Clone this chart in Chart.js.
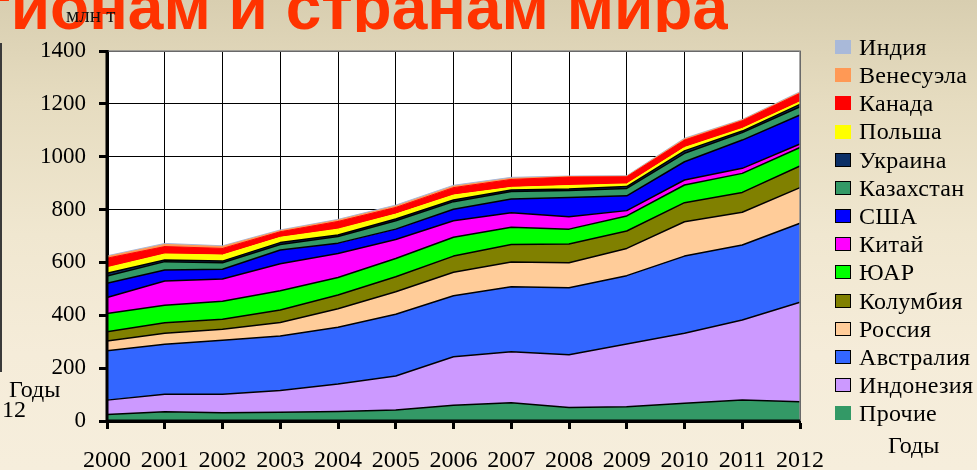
<!DOCTYPE html>
<html>
<head>
<meta charset="utf-8">
<script src="https://cdn.jsdelivr.net/npm/chart.js@4/dist/chart.umd.min.js"></script>
<style>
  html, body { margin: 0; padding: 0; }
  body {
    width: 977px; height: 470px; overflow: hidden; position: relative;
    background: linear-gradient(180deg, #d8ceb0 0%, #e6dcc0 22%, #f0e7d0 50%, #f5ecd9 75%, #f6eedc 100%);
    font-family: 'Liberation Serif', 'Times New Roman', serif;
  }
  #title { position: absolute; left: 0; top: 0; width: 728px; height: 32px; overflow: hidden; z-index: 2; }
  #title span {
    position: absolute; right: 0; top: -25px; white-space: nowrap;
    font: bold 64px 'Liberation Sans', Arial, sans-serif; line-height: 64px; color: #ff3300;
  }
  #unit { position: absolute; left: 66px; top: 5px; font-size: 21px; line-height: 21px; color: #111; z-index: 3; }
  #chartWrap { position: absolute; left: 0; top: 0; width: 977px; height: 470px; z-index: 1; }
  #legend { position: absolute; left: 835px; top: 32.9px; z-index: 3; }
  .li { height: 28.2px; display: flex; align-items: center; font-size: 24px; line-height: 28.2px; color: #000; white-space: nowrap; letter-spacing: 0.3px; }
  .lb { width: 16px; height: 14px; box-sizing: border-box; margin-right: 8px; flex: none; }
  .txt { position: absolute; font-size: 24px; line-height: 24px; color: #000; z-index: 3; white-space: nowrap; }
  #leftLine { position: absolute; left: 0; top: 43px; width: 2px; height: 329px; background: #3a3a3a; z-index: 3; }
</style>
</head>
<body>
<div id="title"><span>регионам и странам мира</span></div>
<div id="unit">млн т</div>
<div id="leftLine"></div>
<div class="txt" style="left:9px; top:377px;">Годы</div>
<div class="txt" style="left:2px; top:397px;">12</div>
<div class="txt" style="left:888px; top:433px;">Годы</div>
<div id="chartWrap"><canvas id="c" width="977" height="470"></canvas></div>
<div id="legend"></div>
<script>
// ---- data (млн т) ----
const years = ['2000','2001','2002','2003','2004','2005','2006','2007','2008','2009','2010','2011','2012'];
const yTicks = [0, 200, 400, 600, 800, 1000, 1200, 1400];

const prochie     = [25, 35, 31, 33, 36, 42, 60, 69, 51, 54, 67, 79, 73];
const indonesia   = [54, 66, 70, 82, 104, 128, 183, 193, 200, 237, 265, 303, 376];
const australia   = [187, 189, 205, 207, 215, 234, 231, 246, 253, 259, 292, 284, 299];
const russia      = [37, 42, 41, 51, 70, 85, 89, 94, 95, 103, 130, 124, 135];
const colombia    = [35, 40, 38, 47, 52, 57, 61, 66, 71, 66, 72, 75, 82];
const southAfrica = [69, 66, 68, 73, 66, 69, 71, 65, 56, 57, 67, 72, 70];
const china       = [60, 92, 84, 102, 91, 72, 63, 55, 47, 20, 19, 19, 13];
const usa         = [54, 41, 37, 52, 39, 39, 43, 52, 73, 56, 69, 107, 110];
const kazakhstan  = [28, 32, 25, 21, 25, 32, 29, 28, 26, 28, 32, 28, 31];
const ukraine     = [10, 6, 6, 7, 6, 6, 6, 6, 6, 7, 9, 6, 9];
const poland      = [21, 23, 23, 20, 22, 19, 19, 10, 13, 10, 13, 10, 10];
const canada      = [36, 28, 25, 21, 29, 25, 28, 30, 32, 27, 28, 29, 32];
const venezuela   = [6, 8, 7, 4, 5, 5, 5, 4, 2, 2, 4, 3, 3];
const india       = [3, 4, 3, 3, 3, 4, 4, 4, 2, 2, 3, 2, 3];

// bottom to top
const series = [
  { name: 'Прочие',    data: prochie,     color: '#339966', line: true,  box: false },
  { name: 'Индонезия', data: indonesia,   color: '#cc99ff', line: true,  box: true },
  { name: 'Австралия', data: australia,   color: '#3366ff', line: true,  box: true },
  { name: 'Россия',    data: russia,      color: '#ffcc99', line: true,  box: true },
  { name: 'Колумбия',  data: colombia,    color: '#808000', line: true,  box: true },
  { name: 'ЮАР',       data: southAfrica, color: '#00ff00', line: true,  box: true },
  { name: 'Китай',     data: china,       color: '#ff00ff', line: true,  box: true },
  { name: 'США',       data: usa,         color: '#0000ff', line: true,  box: true },
  { name: 'Казахстан', data: kazakhstan,  color: '#339966', line: true,  box: true },
  { name: 'Украина',   data: ukraine,     color: '#0b2f66', line: true,  box: true },
  { name: 'Польша',    data: poland,      color: '#ffff00', line: false, box: false },
  { name: 'Канада',    data: canada,      color: '#ff0000', line: false, box: false },
  { name: 'Венесуэла', data: venezuela,   color: '#ff9955', line: false, box: false },
  { name: 'Индия',     data: india,       color: '#a9b9d9', line: false, box: false }
];

const datasets = series.map((s, i) => ({
  label: s.name,
  data: s.data,
  backgroundColor: s.color,
  borderColor: s.line ? '#000000' : s.color,
  borderWidth: s.line ? 1.5 : 1,
  fill: i === 0 ? 'origin' : '-1',
  pointRadius: 0,
  pointHoverRadius: 0,
  tension: 0
}));

const serif = "'Liberation Serif', 'Times New Roman', serif";

const frame = {
  id: 'frame',
  beforeDraw(chart) {
    const { ctx, chartArea: a } = chart;
    ctx.save();
    ctx.fillStyle = '#ffffff';
    ctx.fillRect(a.left, a.top, a.right - a.left, a.bottom - a.top);
    ctx.restore();
  },
  afterDatasetsDraw(chart) {
    const { ctx, chartArea: a } = chart;
    ctx.save();
    ctx.strokeStyle = '#8c8c8c';
    ctx.lineWidth = 1.5;
    ctx.beginPath();
    ctx.moveTo(a.left, a.top);
    ctx.lineTo(a.right, a.top);
    ctx.lineTo(a.right, a.bottom);
    ctx.stroke();
    ctx.strokeStyle = '#000000';
    ctx.lineWidth = 3;
    ctx.beginPath();
    ctx.moveTo(a.left, a.top - 1);
    ctx.lineTo(a.left, a.bottom);
    ctx.lineTo(a.right, a.bottom);
    ctx.stroke();
    ctx.restore();
  }
};

new Chart(document.getElementById('c'), {
  type: 'line',
  data: { labels: years, datasets },
  plugins: [frame],
  options: {
    responsive: false,
    devicePixelRatio: 1,
    animation: false,
    events: [],
    layout: { padding: { left: 0, top: 51, right: 177, bottom: 0 } },
    plugins: { legend: { display: false }, tooltip: { enabled: false }, title: { display: false } },
    elements: { line: { borderJoinStyle: 'round' } },
    scales: {
      x: {
        offset: false,
        grid: { color: '#000000', lineWidth: 1, drawTicks: true, tickLength: 8, tickWidth: 3, tickColor: '#000000' },
        border: { display: true, color: '#000000', width: 3 },
        ticks: { autoSkip: false, maxRotation: 0, padding: 17, color: '#000000', font: { family: serif, size: 24 } },
        afterFit(scale) { scale.height = 49; }
      },
      y: {
        stacked: true,
        min: 0, max: 1400,
        afterBuildTicks(scale) { scale.ticks = yTicks.map(v => ({ value: v })); },
        grid: { color: '#000000', lineWidth: 1, drawTicks: true, tickLength: 8, tickWidth: 3, tickColor: '#000000' },
        border: { display: true, color: '#000000', width: 3 },
        ticks: { padding: 13, color: '#000000', font: { family: serif, size: 23 }, callback: v => String(v) },
        afterFit(scale) { scale.width = 107; }
      }
    }
  }
});

// HTML legend (top to bottom = reverse of stacking)
const legendEl = document.getElementById('legend');
[...series].reverse().forEach(s => {
  const row = document.createElement('div');
  row.className = 'li';
  const b = document.createElement('span');
  b.className = 'lb';
  b.style.background = s.color;
  if (s.box) b.style.border = '1px solid #000';
  const t = document.createElement('span');
  t.textContent = s.name;
  row.appendChild(b);
  row.appendChild(t);
  legendEl.appendChild(row);
});
</script>
</body>
</html>
